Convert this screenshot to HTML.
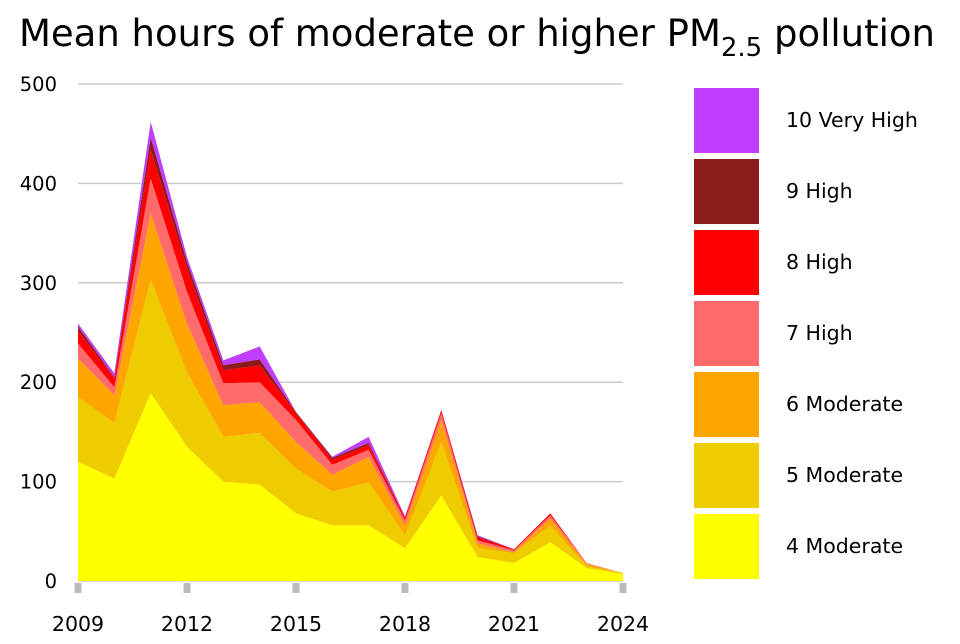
<!DOCTYPE html>
<html><head><meta charset="utf-8"><style>
body{margin:0;background:#fff;font-family:"DejaVu Sans","Liberation Sans",sans-serif;}
svg text{font-family:"DejaVu Sans","Liberation Sans",sans-serif;}
</style></head><body>
<svg id="chart" width="960" height="640" xmlns="http://www.w3.org/2000/svg">
<text x="477" y="46" text-anchor="middle" font-size="37" fill="#000">Mean hours of moderate or higher PM<tspan font-size="26" dy="10">2.5</tspan><tspan dy="-10"> pollution</tspan></text>
<g id="grid"></g><g id="areas"></g><g id="axes"></g><g id="legend"></g>
</svg>
<script>
const years=[2009,2010,2011,2012,2013,2014,2015,2016,2017,2018,2019,2020,2021,2022,2023,2024];
const seriesNames=["4 Moderate","5 Moderate","6 Moderate","7 High","8 High","9 High","10 Very High"];
const seriesColors=["#ffff00","#eecc00","#ffa500","#ff6a6a","#ff0000","#8b1a1a","#bf3eff"];
const s4=[120,103,189,135,100,97,68,56,56,33,86,24,18,39,13,7];
const s5=[65,56,114,75,45,52,45,34,43,13,54,9,10,17,2,1];
const s6=[39,28,67,49,32,31,27,17,26,10,22,5,1,7,2,0];
const s7=[15,8,35,32,22,20,22,10,7,5,7,3,2,3,1,0];
const s8=[13,9,29,24,13,17,7,5,5,3,3,3,1,2,0,0];
const s9=[4,1,12,6,5,6,1,2,2,0,0,1,0,0,0,0];
const s10=[3,4,16,5,5,13,0,1,6,1,0,1,0,0,0,0];
const yTicks=[0,100,200,300,400,500];
const xTicks=[2009,2012,2015,2018,2021,2024];
const series=[s4,s5,s6,s7,s8,s9,s10];
const NS="http://www.w3.org/2000/svg";
const x=v=>78+(v-2009)*(545/15);
const y=v=>581-v*0.994;
function mk(tag,attrs,parent){const e=document.createElementNS(NS,tag);for(const k in attrs)e.setAttribute(k,attrs[k]);parent.appendChild(e);return e;}
const grid=document.getElementById('grid'),areas=document.getElementById('areas'),axes=document.getElementById('axes'),legend=document.getElementById('legend');
yTicks.forEach(t=>{
 const l=mk('line',{x1:78,x2:623,y1:y(t),y2:y(t),stroke:'#cccccc','stroke-width':1.5},grid);
 
 
 const tx=mk('text',{x:57,y:y(t)+7,'text-anchor':'end','font-size':19.5,fill:'#000'},axes);
 tx.textContent=t;
 
 
});
let base=years.map(()=>0);
series.forEach((s,i)=>{
 const top=base.map((b,j)=>b+s[j]);
 let d='M'+years.map((yr,j)=>x(yr)+','+y(top[j])).join(' L');
 for(let j=years.length-1;j>=0;j--)d+=' L'+x(years[j])+','+y(base[j]);
 const p=mk('path',{d:d+'Z',fill:seriesColors[i]},areas);
 
 
 base=top;
});
xTicks.forEach(t=>{
 const r=mk('rect',{x:x(t)-3.5,y:583,width:7,height:10,fill:'#bbbbbb'},axes);
 
 
 const tx=mk('text',{x:x(t),y:631,'text-anchor':'middle','font-size':20.5,fill:'#000'},axes);
 tx.textContent=t;
 
 
});
for(let i=0;i<7;i++){
 const k=6-i;
 const r=mk('rect',{x:694,y:88+i*71,width:65,height:65,fill:seriesColors[k]},legend);
 
 
 const t=mk('text',{x:786,y:88+i*71+39,'font-size':20.5,fill:'#000'},legend);
 t.textContent=seriesNames[k];
 
 
}
</script>
</body></html>
